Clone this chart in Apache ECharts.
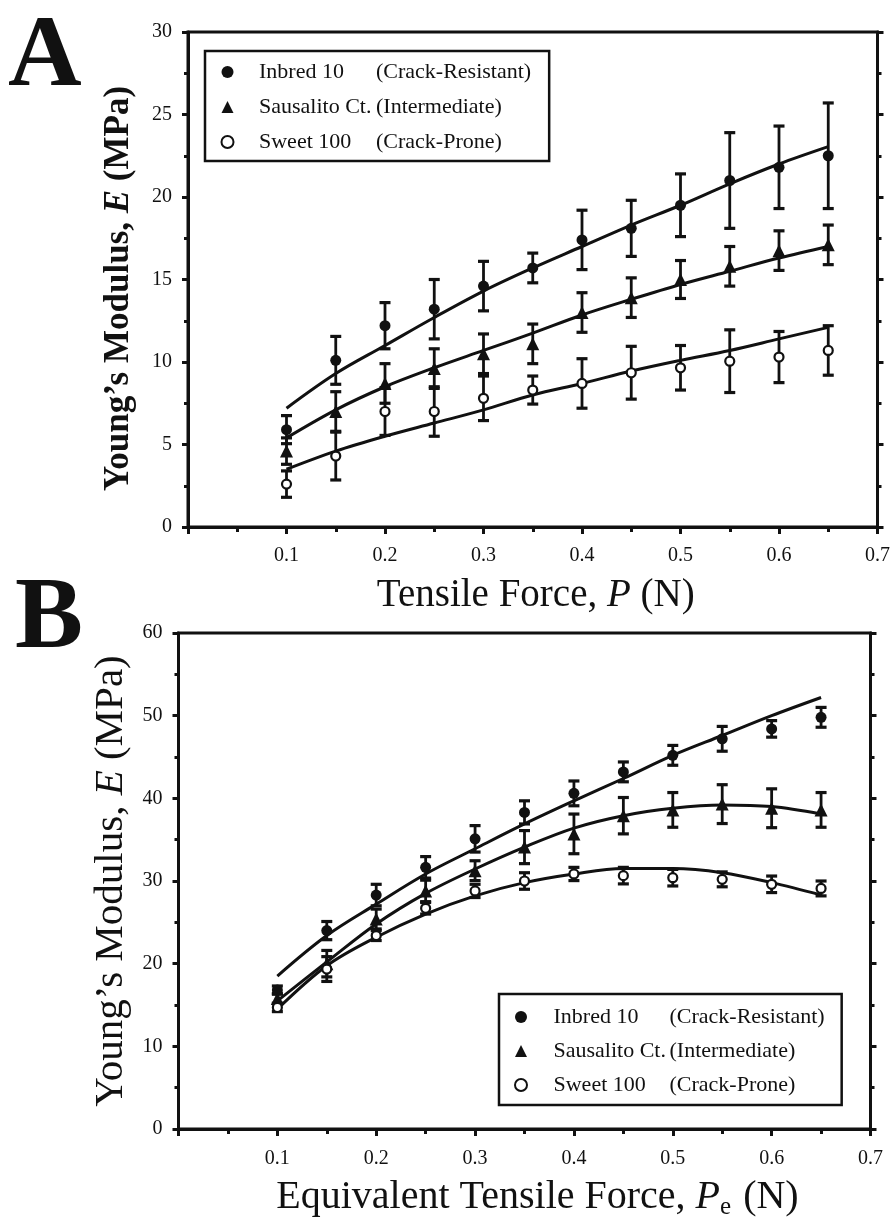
<!DOCTYPE html>
<html>
<head>
<meta charset="utf-8">
<script src="https://cdn.jsdelivr.net/npm/echarts@6/dist/echarts.min.js"></script>
<style>
  html, body { margin: 0; padding: 0; background: #fff; }
  #chart { width: 893px; height: 1221px; }
</style>
</head>
<body>
<div id="chart"></div>
<script>
// ---------- data ----------
const forceX = [0.10, 0.15, 0.20, 0.25, 0.30, 0.35, 0.40, 0.45, 0.50, 0.55, 0.60, 0.65];
const seriesNames = ['Inbred 10', 'Sausalito Ct.', 'Sweet 100'];
const seriesNotes = ['(Crack-Resistant)', '(Intermediate)', '(Crack-Prone)'];

// Panel A: Young's modulus vs tensile force
const inbredA      = [5.9, 10.1, 12.2, 13.2, 14.6, 15.7, 17.4, 18.1, 19.5, 21.0, 21.8, 22.5];
const inbredAErr   = [0.85, 1.45, 1.4, 1.8, 1.5, 0.9, 1.8, 1.7, 1.9, 2.9, 2.5, 3.2];
const sausalitoA   = [4.6, 7.0, 8.7, 9.6, 10.5, 11.1, 13.0, 13.9, 15.0, 15.8, 16.75, 17.1];
const sausalitoAErr= [0.8, 1.2, 1.2, 1.2, 1.2, 1.2, 1.2, 1.2, 1.15, 1.2, 1.2, 1.2];
const sweetA       = [2.6, 4.3, 7.0, 7.0, 7.8, 8.3, 8.7, 9.35, 9.65, 10.05, 10.3, 10.7];
const sweetAErr    = [0.8, 1.45, 1.45, 1.5, 1.35, 0.85, 1.5, 1.6, 1.35, 1.9, 1.55, 1.5];
const inbredAFit   = [7.2, 9.3, 11.0, 12.7, 14.3, 15.7, 17.0, 18.3, 19.5, 20.8, 22.0, 23.05];
const sausalitoAFit= [5.4, 7.1, 8.5, 9.65, 10.7, 11.75, 12.85, 13.8, 14.7, 15.5, 16.3, 17.0];
const sweetAFit    = [3.5, 4.6, 5.5, 6.3, 7.1, 8.0, 8.7, 9.45, 10.1, 10.7, 11.4, 12.1];

// Panel B: Young's modulus vs equivalent tensile force
const inbredB      = [16.8, 24.0, 28.3, 31.65, 35.1, 38.3, 40.6, 43.2, 45.2, 47.2, 48.4, 49.8];
const inbredBErr   = [0.5, 1.1, 1.3, 1.3, 1.6, 1.4, 1.5, 1.2, 1.2, 1.5, 1.0, 1.2];
const sausalitoB   = [15.8, 20.0, 25.4, 28.8, 31.25, 34.1, 35.7, 37.9, 38.6, 39.3, 38.8, 38.6];
const sausalitoBErr= [0.6, 1.6, 1.2, 1.3, 1.2, 2.0, 2.4, 2.2, 2.1, 2.35, 2.35, 2.1];
const sweetB       = [14.7, 19.35, 23.4, 26.7, 28.8, 30.0, 30.85, 30.65, 30.4, 30.2, 29.6, 29.1];
const sweetBErr    = [0.5, 1.5, 0.6, 0.7, 0.8, 1.0, 0.8, 1.0, 1.0, 0.9, 1.0, 0.9];
const inbredBFit   = [18.5, 23.4, 27.2, 30.85, 33.9, 36.9, 39.7, 42.4, 45.2, 47.6, 50.0, 52.2];
const sausalitoBFit= [15.5, 20.2, 24.8, 28.5, 31.45, 34.1, 36.4, 37.9, 38.8, 39.2, 39.0, 38.1];
const sweetBFit    = [14.5, 19.75, 23.2, 26.0, 28.2, 29.8, 30.85, 31.5, 31.5, 31.0, 29.8, 28.3];

// ---------- styling ----------
const INK = '#111111';
const SERIF = '"Liberation Serif", "DejaVu Serif", serif';

function pairs(xs, ys) { return xs.map((x, i) => [x, ys[i]]); }

function errSeries(gi, xs, ys, es) {
  return {
    type: 'custom', name: 'err' + gi, xAxisIndex: gi, yAxisIndex: gi * 2, silent: true, z: 3,
    data: xs.map((x, i) => [x, ys[i] - es[i], ys[i] + es[i]]),
    renderItem: function (params, api) {
      const lo = api.coord([api.value(0), api.value(1)]);
      const hi = api.coord([api.value(0), api.value(2)]);
      const w = 5.5;
      return { type: 'group', children: [
        { type: 'line', shape: { x1: lo[0], y1: lo[1], x2: hi[0], y2: hi[1] }, style: { stroke: INK, lineWidth: 2.8 } },
        { type: 'line', shape: { x1: lo[0] - w, y1: lo[1], x2: lo[0] + w, y2: lo[1] }, style: { stroke: INK, lineWidth: 3.2 } },
        { type: 'line', shape: { x1: hi[0] - w, y1: hi[1], x2: hi[0] + w, y2: hi[1] }, style: { stroke: INK, lineWidth: 3.2 } }
      ]};
    }
  };
}
function fitSeries(gi, xs, ys) {
  return { type: 'line', name: 'fit' + gi, xAxisIndex: gi, yAxisIndex: gi * 2, data: pairs(xs, ys),
    smooth: 0.35, showSymbol: false, symbol: 'none', silent: true, z: 2,
    lineStyle: { color: INK, width: 3 } };
}
const markerStyles = [
  { symbol: 'circle', symbolSize: 11, itemStyle: { color: INK, opacity: 1 } },
  { symbol: 'triangle', symbolSize: 13, itemStyle: { color: INK, opacity: 1 } },
  { symbol: 'circle', symbolSize: 9, itemStyle: { color: '#fff', borderColor: INK, borderWidth: 2.2, opacity: 1 } }
];
function pointSeries(gi, k, xs, ys) {
  return Object.assign({ type: 'scatter', name: seriesNames[k], xAxisIndex: gi, yAxisIndex: gi * 2,
    data: pairs(xs, ys), z: 5, silent: true }, markerStyles[k]);
}

function xAxisCfg(gi, nameRich, gap, fs, labelMargin, namePad) {
  return {
    type: 'value', gridIndex: gi, min: 0, max: 0.7, interval: 0.1,
    name: nameRich, nameLocation: 'middle', nameGap: gap,
    nameTextStyle: { fontFamily: SERIF, fontSize: fs, color: INK, padding: namePad,
      rich: {
        n: { fontFamily: SERIF, fontSize: fs, color: INK, lineHeight: fs + 5 },
        i: { fontFamily: SERIF, fontSize: fs, color: INK, fontStyle: 'italic', lineHeight: fs + 5 },
        s: { fontFamily: SERIF, fontSize: Math.round(fs * 0.62), color: INK, lineHeight: 22, verticalAlign: 'bottom', padding: [0, 2, 0, 0] }
      } },
    axisLine: { show: true, onZero: false, lineStyle: { color: INK, width: 3 } },
    axisTick: { show: true, length: 7, lineStyle: { color: INK, width: 3 } },
    minorTick: { show: true, splitNumber: 2, length: 5, lineStyle: { color: INK, width: 3 } },
    splitLine: { show: false },
    axisLabel: { fontFamily: SERIF, fontSize: 20, color: INK, margin: labelMargin,
      formatter: v => (Math.abs(v) < 1e-9 ? '' : v.toFixed(1)) }
  };
}
function yAxisCfg(gi, max, interval, nameSize, bold, gap, side, namePad) {
  const left = side === 'left';
  const fw = bold ? 'bold' : 'normal';
  return {
    type: 'value', gridIndex: gi, min: 0, max: max, interval: interval, position: side,
    name: left ? "{n|Young\u2019s Modulus, }{i|E}{n| (MPa)}" : '',
    nameLocation: 'middle', nameGap: gap, nameRotate: 90,
    nameTextStyle: { fontFamily: SERIF, fontSize: nameSize, color: INK, fontWeight: fw, padding: namePad,
      rich: {
        n: { fontFamily: SERIF, fontSize: nameSize, color: INK, fontWeight: fw },
        i: { fontFamily: SERIF, fontSize: nameSize, color: INK, fontWeight: fw, fontStyle: 'italic' }
      } },
    axisLine: { show: true, onZero: false, lineStyle: { color: INK, width: 3 } },
    axisTick: { show: true, length: 6, lineStyle: { color: INK, width: 3 } },
    minorTick: { show: true, splitNumber: 2, length: 4, lineStyle: { color: INK, width: 3 } },
    splitLine: { show: false },
    axisLabel: { show: left, fontFamily: SERIF, fontSize: 20, color: INK, margin: 16 }
  };
}

function legendCfg(left, top, padding, itemGap, gW, colW) {
  const rich = {
    g: { width: gW, fontSize: 22, fontFamily: SERIF, lineHeight: 22 },
    a: { width: colW, fontSize: 22, fontFamily: SERIF, color: INK, lineHeight: 22 },
    b: { fontSize: 22, fontFamily: SERIF, color: INK, lineHeight: 22 }
  };
  return {
    show: true, orient: 'vertical', left: left, top: top, padding: padding, itemGap: itemGap,
    itemWidth: 12, itemHeight: 12, selectedMode: false,
    borderColor: INK, borderWidth: 2.5, backgroundColor: '#fff',
    data: seriesNames.map(n => ({ name: n })),
    textStyle: { fontFamily: SERIF, fontSize: 22, color: INK, rich: rich },
    formatter: name => {
      const k = seriesNames.indexOf(name);
      return '{g| }{a|' + name + '}{b|' + seriesNotes[k] + '}';
    }
  };
}

const option = {
  backgroundColor: '#fff',
  animation: false,
  grid: [
    { left: 188, top: 32, width: 693, height: 495, show: true, borderColor: INK, borderWidth: 3, backgroundColor: 'transparent' },
    { left: 178.5, top: 633, width: 692, height: 496, show: true, borderColor: INK, borderWidth: 3, backgroundColor: 'transparent' }
  ],
  xAxis: [
    xAxisCfg(0, '{n|Tensile Force, }{i|P}{n| (N)}', 47, 39, 19, [0, 0, 0, 6]),
    xAxisCfg(1, '{n|Equivalent Tensile Force, }{i|P}{s|e}{n| (N)}', 46, 40, 20, [0, 0, 0, 26])
  ],
  yAxis: [
    yAxisCfg(0, 30, 5, 35, true, 52, 'left', [0, 18, 0, 0]),
    yAxisCfg(0, 30, 5, 35, true, 52, 'right', 0),
    yAxisCfg(1, 60, 10, 41, false, 41, 'left', 0),
    yAxisCfg(1, 60, 10, 41, false, 41, 'right', 0)
  ],
  legend: [
    legendCfg(205, 51, [10, 18, 8, 15.5], 13, 20.5, 117),
    legendCfg(499, 994, [12, 17, 9, 15], 12, 21.5, 116)
  ],
  graphic: [
    { type: 'text', left: 8, top: 8, style: { text: 'A', font: 'bold 102px ' + SERIF, fill: INK } },
    { type: 'text', left: 15, top: 570, style: { text: 'B', font: 'bold 102px ' + SERIF, fill: INK } }
  ],
  series: [
    fitSeries(0, forceX, inbredAFit), fitSeries(0, forceX, sausalitoAFit), fitSeries(0, forceX, sweetAFit),
    errSeries(0, forceX, inbredA, inbredAErr), errSeries(0, forceX, sausalitoA, sausalitoAErr), errSeries(0, forceX, sweetA, sweetAErr),
    pointSeries(0, 0, forceX, inbredA), pointSeries(0, 1, forceX, sausalitoA), pointSeries(0, 2, forceX, sweetA),
    fitSeries(1, forceX, inbredBFit), fitSeries(1, forceX, sausalitoBFit), fitSeries(1, forceX, sweetBFit),
    errSeries(1, forceX, inbredB, inbredBErr), errSeries(1, forceX, sausalitoB, sausalitoBErr), errSeries(1, forceX, sweetB, sweetBErr),
    pointSeries(1, 0, forceX, inbredB), pointSeries(1, 1, forceX, sausalitoB), pointSeries(1, 2, forceX, sweetB)
  ]
};

const chart = echarts.init(document.getElementById('chart'), null, { renderer: 'canvas', width: 893, height: 1221 });
chart.setOption(option);
</script>
</body>
</html>
